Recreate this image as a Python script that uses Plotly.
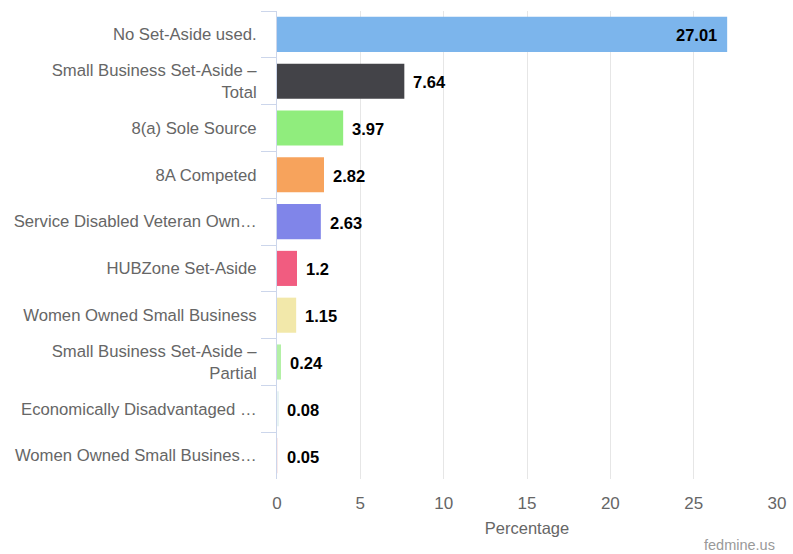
import plotly.graph_objects as go

# 세트어사이드 유형별 비중 (%)
categories = [
    "No Set-Aside used.",
    "Small Business Set-Aside –<br>Total",
    "8(a) Sole Source",
    "8A Competed",
    "Service Disabled Veteran Own…",
    "HUBZone Set-Aside",
    "Women Owned Small Business",
    "Small Business Set-Aside –<br>Partial",
    "Economically Disadvantaged …",
    "Women Owned Small Busines…",
]
values = [27.01, 7.64, 3.97, 2.82, 2.63, 1.2, 1.15, 0.24, 0.08, 0.05]
colors = ["#7cb5ec", "#434348", "#90ed7d", "#f7a35c", "#8085e9",
          "#f15c80", "#f2e8aa", "#b3f0a6", "#e8f4f4", "#fbeaea"]
x_ticks = [0, 5, 10, 15, 20, 25, 30]

FONT = "Liberation Sans, Arial, sans-serif"

fig = go.Figure(go.Bar(
    x=values,
    y=categories,
    orientation="h",
    marker=dict(color=colors, line=dict(width=0)),
    width=0.75,
    hoverinfo="x+y",
))

# 값 라벨: 가장 큰 막대는 안쪽, 나머지는 바깥쪽
for i, (cat, v) in enumerate(zip(categories, values)):
    inside = i == 0
    fig.add_annotation(
        x=v, y=cat, xref="x", yref="y",
        text=f"<b>{v:g}</b>",
        showarrow=False,
        xanchor="right" if inside else "left",
        xshift=-8 if inside else 7,
        yshift=-1,
        font=dict(family=FONT, size=16.5, color="black"),
    )

fig.update_yaxes(
    categoryorder="array",
    categoryarray=categories,
    autorange="reversed",
    tickson="boundaries",
    ticks="outside",
    ticklen=15,
    tickcolor="#ccd6eb",
    showline=True,
    linecolor="#ccd6eb",
    linewidth=1,
    showgrid=False,
    tickfont=dict(family=FONT, size=16.7, color="#666666"),
    ticklabelstandoff=16,
)
fig.update_xaxes(
    range=[0, 30],
    tickvals=x_ticks,
    showgrid=True,
    gridcolor="#e6e6e6",
    gridwidth=1,
    zeroline=False,
    showline=False,
    tickfont=dict(family=FONT, size=17, color="#666666"),
    ticklabelstandoff=12,
    title=dict(text="Percentage", font=dict(family=FONT, size=16.5, color="#666666"), standoff=10),
)
fig.add_annotation(
    xref="paper", yref="paper", x=1.0, y=-0.12,
    xanchor="right", yanchor="top",
    text="fedmine.us", showarrow=False,
    font=dict(family=FONT, size=14.5, color="#999999"),
)
fig.update_layout(
    width=793, height=554,
    margin=dict(l=277, r=16, t=11, b=75, autoexpand=False),
    showlegend=False,
    paper_bgcolor="white",
    plot_bgcolor="white",
)
# body 기본 여백 제거
fig.write_html(
    "out.html",
    config={"displayModeBar": False},
    post_script="document.body.style.margin='0';",
)
